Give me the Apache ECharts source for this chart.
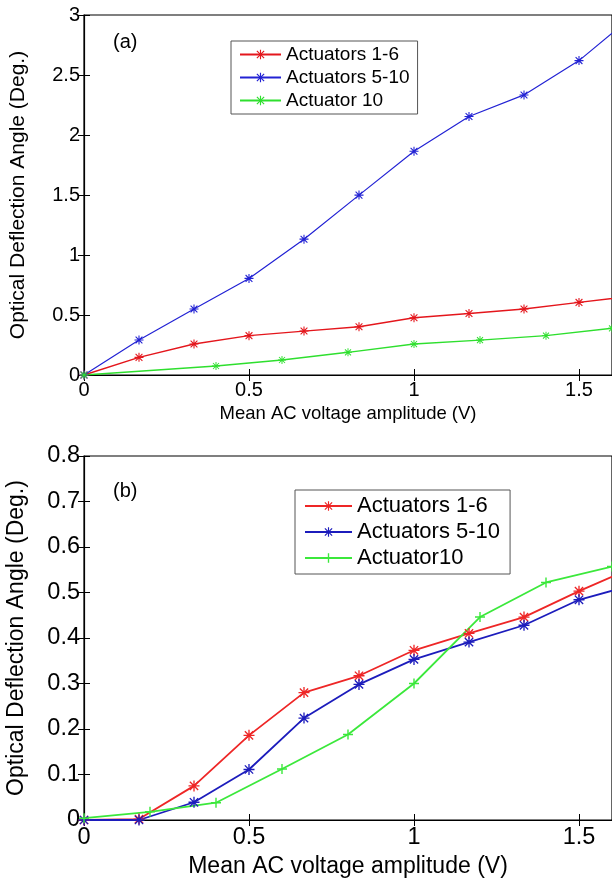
<!DOCTYPE html>
<html lang="en">
  <head>
    <meta charset="UTF-8" />
    <title>Optical deflection vs AC voltage</title>
    <script src="https://cdn.jsdelivr.net/npm/echarts@6/dist/echarts.min.js"></script>
    <style>
      body { margin: 0; padding: 0; background: #fff; }
      #chart-a { width: 612px; height: 440px; }
      #chart-b { width: 612px; height: 439px; }
    </style>
  </head>
  <body>
    <div id="chart-a"></div>
    <div id="chart-b"></div>
    <script>
      // x values: steps of 1/6 V for actuators 1-6 and 5-10, steps of 0.2 V for actuator 10
      var xSixth = [0, 1 / 6, 2 / 6, 3 / 6, 4 / 6, 5 / 6, 1, 7 / 6, 8 / 6, 9 / 6, 10 / 6];

      // (a)
      var xGreenA = [0, 0.4, 0.6, 0.8, 1.0, 1.2, 1.4, 1.6];
      var redA = [0, 0.147, 0.258, 0.328, 0.366, 0.402, 0.477, 0.513, 0.55, 0.605, 0.66];
      var blueA = [0, 0.291, 0.55, 0.805, 1.132, 1.499, 1.865, 2.154, 2.334, 2.62, 3.0];
      var greenA = [0, 0.075, 0.125, 0.189, 0.258, 0.291, 0.328, 0.389];

      // (b)
      var xGreenB = [0, 0.2, 0.4, 0.6, 0.8, 1.0, 1.2, 1.4, 1.6];
      var redB = [0, 0.002, 0.075, 0.186, 0.28, 0.317, 0.373, 0.41, 0.446, 0.503, 0.556];
      var blueB = [0, 0, 0.039, 0.111, 0.224, 0.298, 0.353, 0.391, 0.428, 0.484, 0.517];
      var greenB = [0.004, 0.018, 0.038, 0.112, 0.188, 0.3, 0.446, 0.522, 0.557];

      var namesA = ['Actuators 1-6', 'Actuators 5-10', 'Actuator 10'];
      var namesB = ['Actuators 1-6', 'Actuators 5-10', 'Actuator10'];

      var STAR = 'path://M4.4,0h1.2v10h-1.2z M0,4.4h10v1.2h-10z M0.8,1.65L1.65,0.8L9.2,8.35L8.35,9.2z M8.35,0.8L9.2,1.65L1.65,9.2L0.8,8.35z';
      var PLUS = 'path://M4.3,0h1.4v10h-1.4z M0,4.3h10v1.4h-10z';
      var FONT = 'Liberation Sans, Arial, sans-serif';

      function pairs(xs, ys) {
        return ys.map(function (y, i) { return [xs[i], y]; });
      }

      function lineSeries(name, data, color, symbol, size, width) {
        return {
          name: name,
          type: 'line',
          data: data,
          symbol: symbol,
          symbolSize: size,
          clip: true,
          itemStyle: { color: color },
          lineStyle: { color: color, width: width },
          emphasis: { disabled: true },
          animation: false
        };
      }

      function buildOption(cfg) {
        var axisText = { color: '#000', fontFamily: FONT, fontSize: cfg.tick };
        return {
          legend: {
            data: cfg.names,
            orient: 'vertical',
            left: cfg.legend.left,
            top: cfg.legend.top,
            padding: cfg.legend.padding,
            itemGap: cfg.legend.gap,
            itemWidth: cfg.legend.itemWidth,
            itemHeight: 12,
            borderColor: '#555',
            borderWidth: 1,
            backgroundColor: '#fff',
            selectedMode: false,
            textStyle: { color: '#000', fontFamily: FONT, fontSize: cfg.legend.font }
          },
          title: {
            text: cfg.tag,
            left: 113,
            top: cfg.tagTop,
            padding: 0,
            textStyle: { color: '#000', fontFamily: FONT, fontSize: 20, fontWeight: 'normal' }
          },
          grid: {
            left: 84, right: 0, top: cfg.top, height: cfg.height,
            outerBoundsMode: 'none', containLabel: false,
            show: true, borderColor: '#000', borderWidth: 1.2
          },
          xAxis: [
            {
              type: 'value', min: 0, max: 1.6, interval: 0.5,
              name: 'Mean AC voltage amplitude (V)',
              nameLocation: 'middle', nameGap: cfg.xGap,
              nameTextStyle: { color: '#000', fontFamily: FONT, fontSize: cfg.xName },
              axisLine: { lineStyle: { color: '#000', width: 1.2 } },
              axisTick: { inside: true, length: 6, lineStyle: { color: '#000' } },
              axisLabel: Object.assign({ showMaxLabel: false, margin: cfg.xMargin }, axisText),
              splitLine: { show: false }
            },
            {
              type: 'value', min: 0, max: 1.6, interval: 0.5, position: 'top',
              axisLine: { show: false },
              axisTick: { inside: true, length: 6, lineStyle: { color: '#000' } },
              axisLabel: { show: false },
              splitLine: { show: false }
            }
          ],
          yAxis: [
            {
              type: 'value', min: 0, max: cfg.yMax, interval: cfg.yStep,
              name: 'Optical Deflection Angle (Deg.)',
              nameLocation: 'middle', nameGap: cfg.yGap,
              nameTextStyle: { color: '#000', fontFamily: FONT, fontSize: cfg.yName },
              axisLine: { show: true, lineStyle: { color: '#000', width: 1.2 } },
              axisTick: { show: true, inside: true, length: 6, lineStyle: { color: '#000' } },
              axisLabel: Object.assign({ margin: 4 }, axisText),
              splitLine: { show: false }
            },
            {
              type: 'value', min: 0, max: cfg.yMax, interval: cfg.yStep, position: 'right',
              axisLine: { show: false },
              axisTick: { show: true, inside: true, length: 6, lineStyle: { color: '#000' } },
              axisLabel: { show: false },
              splitLine: { show: false }
            }
          ],
          series: cfg.series
        };
      }

      var chartA = echarts.init(document.getElementById('chart-a'));
      chartA.setOption(buildOption({
        names: namesA,
        tag: '(a)', tagTop: 32,
        top: 15, height: 360,
        tick: 20, xName: 18.5, yName: 21, xGap: 29, yGap: 55, xMargin: 5,
        yMax: 3, yStep: 0.5,
        legend: { left: 231, top: 41, padding: [4, 8, 4, 8], gap: 4, itemWidth: 41, font: 19 },
        series: [
          lineSeries(namesA[0], pairs(xSixth, redA), '#e4161c', STAR, 9, 1.4),
          lineSeries(namesA[1], pairs(xSixth, blueA), '#2222d4', STAR, 9, 1.2),
          lineSeries(namesA[2], pairs(xGreenA, greenA), '#2edf2e', STAR, 8, 1.4)
        ]
      }));

      var chartB = echarts.init(document.getElementById('chart-b'));
      chartB.setOption(buildOption({
        names: namesB,
        tag: '(b)', tagTop: 41,
        top: 16, height: 364,
        tick: 23.5, xName: 23, yName: 23, xGap: 35, yGap: 56, xMargin: 6,
        yMax: 0.8, yStep: 0.1,
        legend: { left: 295, top: 50, padding: [5, 10, 5, 9], gap: 4, itemWidth: 47, font: 22 },
        series: [
          lineSeries(namesB[0], pairs(xSixth, redB), '#ee2626', STAR, 11, 1.8),
          lineSeries(namesB[1], pairs(xSixth, blueB), '#1c1cbc', STAR, 11, 1.8),
          lineSeries(namesB[2], pairs(xGreenB, greenB), '#3be83b', PLUS, 10, 1.8)
        ]
      }));
    </script>
  </body>
</html>
